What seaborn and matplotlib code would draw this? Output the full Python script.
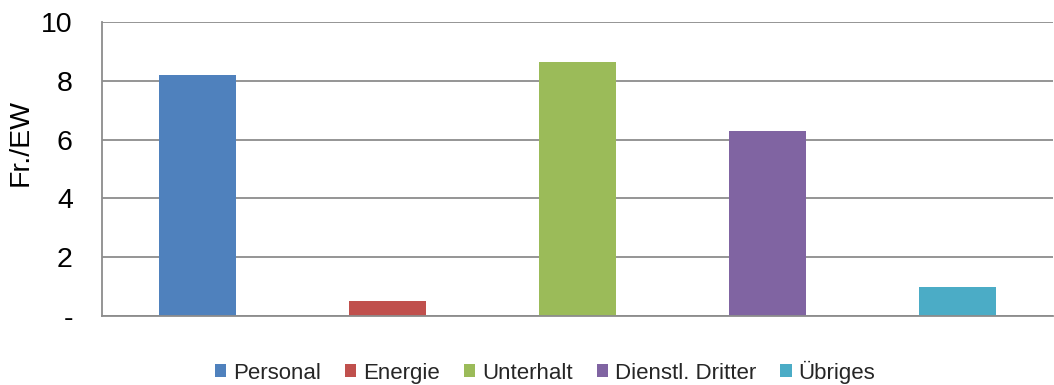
import matplotlib
matplotlib.use("Agg")
import matplotlib.pyplot as plt
from matplotlib.patches import Patch
import pandas as pd
import seaborn as sns

categories = ["Personal", "Energie", "Unterhalt", "Dienstl. Dritter", "Übriges"]
values = [8.2, 0.5, 8.63, 6.29, 1.0]
colors = ["#4F81BD", "#C0504D", "#9BBB59", "#8064A2", "#4BACC6"]
y_ticks = [0, 2, 4, 6, 8, 10]
y_tick_labels = ["-", "2", "4", "6", "8", "10"]

sns.set_theme(style="white")
plt.rcParams["font.family"] = ["Liberation Sans", "DejaVu Sans"]

df = pd.DataFrame({"Kategorie": categories, "Wert": values})

W, H = 1054, 385
fig = plt.figure(figsize=(W / 100, H / 100), dpi=100)
ax = fig.add_axes([102 / W, 1 - 316 / H, 951 / W, 294 / H])

sns.barplot(data=df, x="Kategorie", y="Wert", hue="Kategorie",
            palette=colors, dodge=False, width=0.405, saturation=1,
            legend=False, linewidth=0, ax=ax)

ax.set_ylim(0, 10)
ax.set_xlim(-0.5, len(categories) - 0.5)
ax.set_yticks(y_ticks)
ax.set_yticklabels(y_tick_labels, fontsize=20.5, color="#000000")
ax.set_xticks([])
ax.set_xlabel("")
ax.set_ylabel("Fr./EW", fontsize=20.5, color="#000000")
ax.yaxis.set_label_coords(-0.0715, 0.59)
ax.tick_params(axis="y", length=0, pad=21)

ax.set_axisbelow(True)
ax.yaxis.grid(True, color="#8c8c8c", linewidth=1.3)
for side in ["top", "right"]:
    ax.spines[side].set_visible(False)
for side in ["left", "bottom"]:
    ax.spines[side].set_color("#8c8c8c")
    ax.spines[side].set_linewidth(1.3)

handles = [Patch(facecolor=c, edgecolor="none", label=l)
           for c, l in zip(colors, categories)]
fig.legend(handles=handles, loc="center", ncol=5,
           bbox_to_anchor=(545 / W, 1 - 372 / H), frameon=False,
           fontsize=16, handlelength=0.5, handleheight=0.5,
           handletextpad=0.3, columnspacing=1.1)

fig.savefig("out.png", dpi=100, facecolor="white")
